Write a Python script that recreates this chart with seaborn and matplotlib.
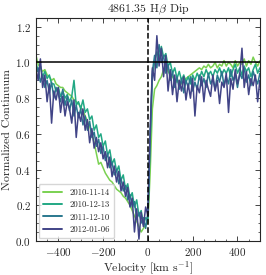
import numpy as np
import pandas as pd
import seaborn as sns
import matplotlib.pyplot as plt
from matplotlib.ticker import MultipleLocator

sns.set_style('ticks')
plt.rcParams['font.family'] = ['cmr10', 'DejaVu Serif']
plt.rcParams['mathtext.fontset'] = 'cm'
plt.rcParams['axes.formatter.use_mathtext'] = True
plt.rcParams['axes.unicode_minus'] = True

# velocity grid [km/s]
velocity = [-500, -490, -480, -470, -460, -450, -440, -430, -420, -410,
            -400, -390, -380, -370, -360, -350, -340, -330, -320, -310,
            -300, -290, -280, -270, -260, -250, -240, -230, -220, -210,
            -200, -190, -180, -170, -160, -150, -140, -130, -120, -110,
            -100, -90, -80, -70, -60, -50, -40, -30, -20, -10,
            0, 10, 20, 30, 40, 50, 60, 70, 80, 90,
            100, 110, 120, 130, 140, 150, 160, 170, 180, 190,
            200, 210, 220, 230, 240, 250, 260, 270, 280, 290,
            300, 310, 320, 330, 340, 350, 360, 370, 380, 390,
            400, 410, 420, 430, 440, 450, 460, 470, 480, 490, 500]

dates = ['2010-11-14', '2010-12-13', '2011-12-10', '2012-01-06']

flux_20101114 = [1.04, 0.99, 0.97, 0.95, 0.96, 0.93, 0.92, 0.90, 0.91, 0.88,
                 0.87, 0.86, 0.86, 0.84, 0.83, 0.82, 0.81, 0.79, 0.78, 0.77,
                 0.75, 0.73, 0.70, 0.67, 0.64, 0.60, 0.55, 0.49, 0.43, 0.44,
                 0.41, 0.38, 0.36, 0.34, 0.33, 0.31, 0.29, 0.28, 0.27, 0.25,
                 0.24, 0.22, 0.20, 0.17, 0.14, 0.11, 0.08, 0.05, 0.07, 0.09,
                 0.10, 0.38, 0.74, 0.85, 0.87, 0.90, 0.92, 0.96, 0.98, 0.95,
                 0.93, 0.92, 0.90, 0.89, 0.90, 0.88, 0.90, 0.91, 0.92, 0.93,
                 0.94, 0.95, 0.96, 0.97, 0.96, 0.98, 0.97, 0.99, 0.97, 0.98,
                 1.00, 0.97, 0.99, 0.98, 1.01, 0.98, 1.00, 0.99, 0.97, 1.01,
                 0.98, 1.00, 0.99, 1.02, 0.98, 1.01, 0.99, 1.03, 1.00, 0.98, 1.01]

flux_20101213 = [1.00, 0.95, 0.98, 0.92, 0.95, 0.91, 0.93, 0.88, 0.88, 0.84,
                 0.86, 0.81, 0.84, 0.80, 0.82, 0.78, 0.81, 0.90, 0.76, 0.78,
                 0.74, 0.79, 0.72, 0.74, 0.68, 0.70, 0.62, 0.65, 0.58, 0.60,
                 0.53, 0.56, 0.48, 0.51, 0.43, 0.46, 0.39, 0.42, 0.34, 0.37,
                 0.29, 0.32, 0.24, 0.27, 0.19, 0.23, 0.14, 0.17, 0.09, 0.13,
                 0.12, 0.55, 0.93, 1.00, 1.06, 1.02, 1.09, 1.03, 1.05, 0.98,
                 1.00, 0.94, 0.97, 0.91, 0.95, 0.90, 0.93, 0.89, 0.92, 0.88,
                 0.93, 0.90, 0.94, 0.91, 0.95, 0.92, 0.96, 0.93, 0.95, 0.92,
                 0.96, 0.94, 0.97, 0.93, 0.96, 0.94, 0.97, 0.92, 0.96, 0.99,
                 0.94, 0.97, 0.93, 0.98, 0.95, 0.97, 0.92, 0.96, 0.99, 0.94, 0.97]

flux_20111210 = [0.94, 0.97, 0.89, 0.93, 0.86, 0.90, 0.83, 0.89, 0.80, 0.86,
                 0.82, 0.78, 0.85, 0.76, 0.81, 0.73, 0.79, 0.70, 0.76, 0.69,
                 0.74, 0.65, 0.70, 0.62, 0.67, 0.58, 0.61, 0.53, 0.57, 0.49,
                 0.53, 0.45, 0.49, 0.41, 0.44, 0.37, 0.40, 0.32, 0.35, 0.28,
                 0.31, 0.23, 0.26, 0.19, 0.22, 0.12, 0.16, 0.10, 0.13, 0.07,
                 0.16, 0.58, 0.95, 1.04, 0.97, 1.10, 1.00, 1.04, 0.94, 0.99,
                 0.90, 0.95, 0.86, 0.92, 0.85, 0.91, 0.83, 0.90, 0.86, 0.92,
                 0.84, 0.89, 0.85, 0.93, 0.87, 0.91, 0.86, 0.94, 0.88, 0.91,
                 0.85, 0.93, 0.89, 0.95, 0.87, 0.92, 0.88, 0.96, 0.90, 0.93,
                 0.86, 0.94, 0.91, 0.97, 0.89, 0.93, 0.87, 0.95, 0.91, 0.88, 0.94]

flux_20120106 = [0.97, 0.90, 1.02, 0.86, 0.93, 0.78, 0.88, 0.66, 0.84, 0.79,
                 0.86, 0.72, 0.81, 0.70, 0.78, 0.74, 0.66, 0.79, 0.58, 0.72,
                 0.67, 0.74, 0.62, 0.68, 0.55, 0.63, 0.52, 0.58, 0.50, 0.55,
                 0.46, 0.50, 0.41, 0.47, 0.36, 0.42, 0.33, 0.39, 0.28, 0.33,
                 0.25, 0.30, 0.19, 0.24, 0.05, 0.18, 0.01, 0.16, 0.08, 0.19,
                 0.14, 0.62, 0.97, 0.90, 1.15, 0.98, 1.08, 0.92, 1.04, 0.84,
                 0.96, 0.82, 0.93, 0.78, 0.90, 0.84, 0.92, 0.79, 0.88, 0.80,
                 0.91, 0.70, 0.87, 0.83, 0.92, 0.78, 0.90, 0.85, 0.81, 0.93,
                 0.84, 0.90, 0.77, 0.89, 0.86, 0.94, 0.72, 0.91, 0.85, 0.96,
                 0.88, 0.93, 1.08, 0.86, 0.95, 0.82, 0.91, 0.87, 0.93, 0.78, 0.90]

series = [flux_20101114, flux_20101213, flux_20111210, flux_20120106]
frames = []
for d, f in zip(dates, series):
    frames.append(pd.DataFrame({'Velocity': velocity, 'Flux': f, 'Date': d}))
df = pd.concat(frames, ignore_index=True)

fig, ax = plt.subplots(figsize=(2.66, 2.75), dpi=100)
fig.subplots_adjust(left=0.135, right=0.977, bottom=0.124, top=0.935)

palette = sns.color_palette('viridis_r', 4)
sns.lineplot(data=df, x='Velocity', y='Flux', hue='Date', palette=palette,
             lw=1.1, ax=ax)

ax.axhline(1.0, color='k', lw=1.1, zorder=5)
ax.axvline(0, color='k', lw=1.1, ls='--', zorder=5)

ax.set_xlim(-500, 500)
ax.set_ylim(0, 1.25)
ax.xaxis.set_major_locator(MultipleLocator(200))
ax.xaxis.set_minor_locator(MultipleLocator(50))
ax.yaxis.set_major_locator(MultipleLocator(0.2))
ax.yaxis.set_minor_locator(MultipleLocator(0.05))
ax.tick_params(which='both', direction='in', top=True, right=True, labelsize=8)
ax.tick_params(which='major', length=3.5, width=0.6)
ax.tick_params(which='minor', length=1.8, width=0.5)
for s in ax.spines.values():
    s.set_linewidth(0.8)

ax.set_xlabel('Velocity [km s$^{-1}$]', fontsize=8.5, labelpad=1)
ax.set_ylabel('Normalized Continuum', fontsize=8.5, labelpad=2)
ax.set_title(r'4861.35 H$\beta$ Dip', fontsize=8.5, pad=4)

leg = ax.legend(loc='lower left', fontsize=6.3, frameon=True, fancybox=True,
                handlelength=2.2, borderpad=0.5, labelspacing=0.45,
                borderaxespad=0.3, framealpha=0.8)
for line in leg.get_lines():
    line.set_linewidth(1.4)

plt.savefig('out.png', dpi=100)
